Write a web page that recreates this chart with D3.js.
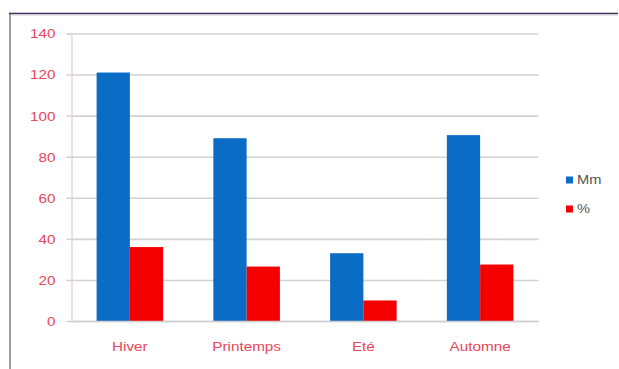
<!DOCTYPE html>
<html>
<head>
<meta charset="utf-8">
<script src="https://cdn.jsdelivr.net/npm/d3@7"></script>
<style>
  html, body { margin: 0; padding: 0; background: #fff; }
  svg { display: block; }
  text { font-family: "Liberation Sans", Arial, sans-serif; }
</style>
</head>
<body>
<svg id="chart" width="619" height="369"></svg>
<script>
// Seasonal values: rainfall (Mm) and share (%)
const seasons = ["Hiver", "Printemps", "Eté", "Automne"];
const seriesNames = ["Mm", "%"];
const mmValues = [121, 89, 33, 90.5];
const pctValues = [36, 26.5, 10, 27.5];
const yTicks = [0, 20, 40, 60, 80, 100, 120, 140];
const seriesColors = ["#0a6cc4", "#f40000"];

const svg = d3.select("#chart");
const W = 619, H = 369;
const plot = { left: 71.5, right: 538.5, top: 33.5, bottom: 321 };
const stretch = 1.22; // wide lettering

// frame
svg.append("rect").attr("x", 0).attr("y", 0).attr("width", W).attr("height", H).attr("fill", "#fff");
svg.append("line").attr("x1", 10).attr("x2", 10).attr("y1", 13).attr("y2", H)
  .attr("stroke", "#a0a0a0").attr("stroke-width", 2);
svg.append("line").attr("x1", 9).attr("x2", 618).attr("y1", 13.5).attr("y2", 13.5)
  .attr("stroke", "#3a2c5c").attr("stroke-width", 1.3);
svg.append("line").attr("x1", 11).attr("x2", 618).attr("y1", 15).attr("y2", 15)
  .attr("stroke", "#cfcfcf").attr("stroke-width", 1);

const y = d3.scaleLinear().domain([0, 140]).range([plot.bottom, plot.top]);
const x0 = d3.scaleBand().domain(seasons).range([plot.left, plot.right])
  .paddingInner(0.43).paddingOuter(0.215);
const x1 = d3.scaleBand().domain(seriesNames).range([0, x0.bandwidth()]);

// gridlines
const grid = svg.append("g").attr("transform", `translate(${plot.left},0)`)
  .call(d3.axisLeft(y).tickValues(yTicks).tickSize(-(plot.right - plot.left)).tickFormat(""));
grid.select(".domain").remove();
grid.selectAll(".tick line").attr("stroke", "#d2d2d2").attr("stroke-width", 1.6);

// y axis with short outside ticks
const yAxis = svg.append("g").attr("transform", `translate(${plot.left},0)`)
  .call(d3.axisLeft(y).tickValues(yTicks).tickSize(5).tickPadding(0).tickFormat(d3.format("d")));
yAxis.select(".domain").attr("stroke", "#e6c8cc").attr("stroke-width", 1.2);
yAxis.selectAll(".tick line").attr("stroke", "#cfcfcf").attr("stroke-width", 1.4);
yAxis.selectAll(".tick text")
  .attr("fill", "#e8465a").attr("font-size", 12.5).attr("text-anchor", "end")
  .attr("x", 0).attr("dy", "0.35em")
  .attr("transform", `translate(-16,0) scale(${stretch},1)`);

// bars
const rows = seasons.map((s, i) => ({ season: s, values: [mmValues[i], pctValues[i]] }));
const groups = svg.append("g").selectAll("g").data(rows).join("g")
  .attr("transform", d => `translate(${x0(d.season)},0)`);
groups.selectAll("rect")
  .data(d => d.values.map((v, k) => ({ name: seriesNames[k], value: v, k })))
  .join("rect")
  .attr("x", d => x1(d.name))
  .attr("width", x1.bandwidth())
  .attr("y", d => y(d.value))
  .attr("height", d => y(0) - y(d.value))
  .attr("fill", d => seriesColors[d.k]);

// x axis baseline and category labels
const xAxis = svg.append("g").attr("transform", `translate(0,${plot.bottom})`)
  .call(d3.axisBottom(x0).tickSize(0).tickPadding(0));
xAxis.select(".domain").attr("stroke", "#cfcfcf").attr("stroke-width", 1.6);
xAxis.selectAll(".tick text")
  .attr("fill", "#e8465a").attr("font-size", 12.5)
  .attr("y", 0).attr("dy", 0)
  .attr("transform", `translate(0,30) scale(${stretch},1)`);

// legend
const legend = svg.append("g").attr("transform", "translate(566,180)");
const items = legend.selectAll("g").data(seriesNames).join("g")
  .attr("transform", (d, i) => `translate(0,${i * 29})`);
items.append("rect").attr("x", 0).attr("y", -3.5).attr("width", 7).attr("height", 7)
  .attr("fill", (d, i) => seriesColors[i]);
items.append("text").text(d => d)
  .attr("fill", "#555").attr("font-size", 12).attr("dy", "0.35em")
  .attr("transform", `translate(11,0) scale(${stretch},1)`);
</script>
</body>
</html>
